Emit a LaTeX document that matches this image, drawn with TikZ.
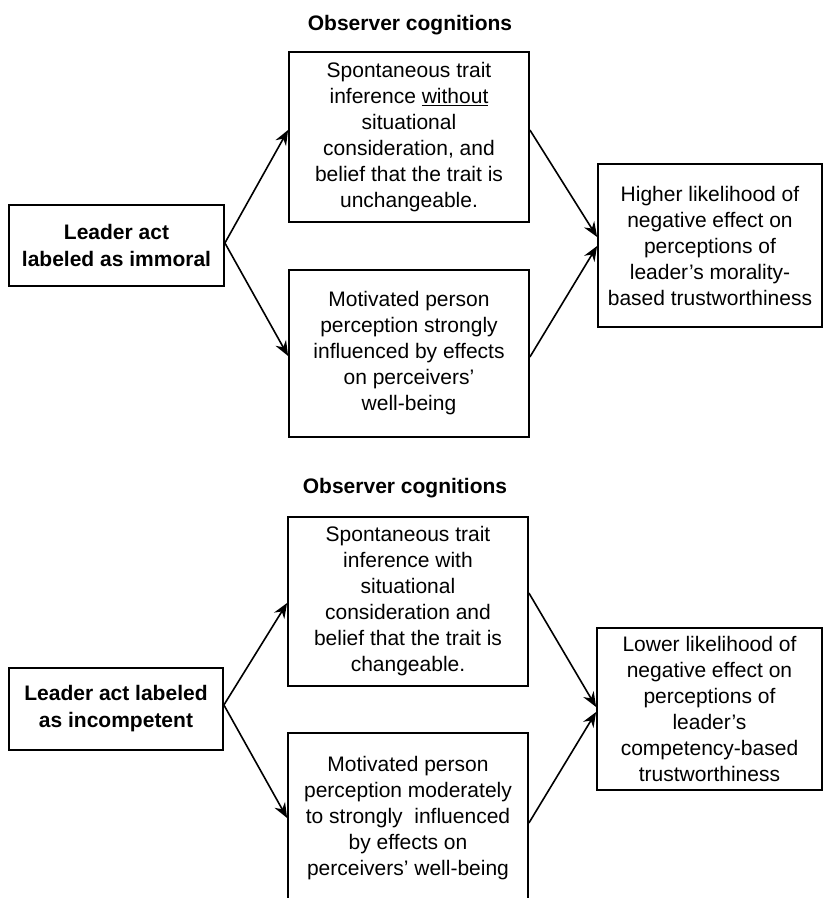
\documentclass[tikz,border=0pt]{standalone}
\usepackage{fontspec}
\setmainfont{Liberation Sans}
\usetikzlibrary{arrows.meta,calc}
\begin{document}
\begin{tikzpicture}[x=1pt,y=1pt,
  txt/.style={font=\fontsize{21}{26}\selectfont, align=center, inner sep=0pt},
  box/.style={txt, draw=black, line width=1.8pt},
  boldbox/.style={box, font=\fontsize{21}{27}\selectfont\bfseries},
  ttl/.style={txt, font=\fontsize{21}{26}\selectfont\bfseries},
  arr/.style={line width=1.6pt, -{Stealth[length=15pt,width=12pt,inset=5pt]}}]
\useasboundingbox (0,0) rectangle (824,898);
\clip (0,0) rectangle (824,898);
\fill[white] (0,0) rectangle (824,898);
% top part
\node[ttl] (t1) at (410,873) {Observer cognitions};
\node[boldbox, minimum width=215pt, minimum height=81pt] (a1) at (116.5,652.5)
  {Leader act\\labeled as immoral};
\node[box, minimum width=240pt, minimum height=170pt] (b1) at (409,761)
  {Spontaneous trait\\inference \underline{without}\\situational\\consideration, and\\belief that the trait is\\unchangeable.};
\node[box, minimum width=240pt, minimum height=167pt] (c1) at (409,544.5)
  {Motivated person\\perception strongly\\influenced by effects\\on perceivers’\\well-being};
\node[box, minimum width=224pt, minimum height=163pt] (d1) at (710,652.5)
  {Higher likelihood of\\negative effect on\\perceptions of\\leader’s morality-\\based trustworthiness};
\draw[arr] ($(a1.east)+(0,2.5)$) -- ($(b1.west)+(0,7)$);
\draw[arr] ($(a1.east)+(0,2.5)$) -- ($(c1.west)+(0,-2.5)$);
\draw[arr] ($(b1.east)+(0,7)$) -- ($(d1.west)+(0,8.5)$);
\draw[arr] ($(c1.east)+(0,-3.5)$) -- ($(d1.west)+(0,-0.5)$);
% bottom part
\node[ttl] (t2) at (405,410) {Observer cognitions};
\node[boldbox, minimum width=214pt, minimum height=82pt] (a2) at (116,189)
  {Leader act labeled\\as incompetent};
\node[box, minimum width=240pt, minimum height=169pt] (b2) at (408,296.5)
  {Spontaneous trait\\inference with\\situational\\consideration and\\belief that the trait is\\changeable.};
\node[box, minimum width=240pt, minimum height=170pt] (c2) at (408,80)
  {Motivated person\\perception moderately\\to strongly\ \ influenced\\by effects on\\perceivers’ well-being};
\node[box, minimum width=225pt, minimum height=162pt] (d2) at (709.5,189)
  {Lower likelihood of\\negative effect on\\perceptions of\\leader’s\\competency-based\\trustworthiness};
\draw[arr] ($(a2.east)+(0,4)$) -- ($(b2.west)+(0,-1.5)$);
\draw[arr] ($(a2.east)+(0,4)$) -- ($(c2.west)+(0,0)$);
\draw[arr] ($(b2.east)+(0,8.5)$) -- ($(d2.west)+(0,2)$);
\draw[arr] ($(c2.east)+(0,-5)$) -- ($(d2.west)+(0,-3)$);
\end{tikzpicture}
\end{document}
